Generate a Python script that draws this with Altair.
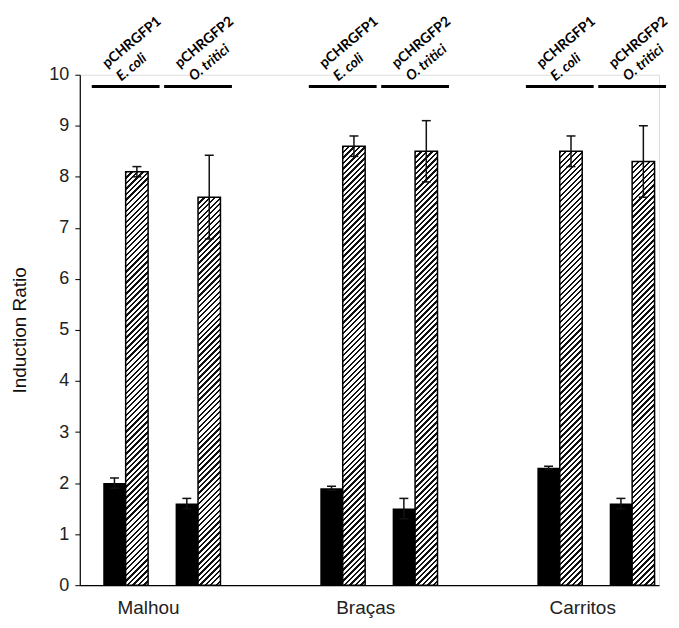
import altair as alt
import pandas as pd

# ---------------- data ----------------
slots = ["M1", "M2", "gap1", "B1", "B2", "gap2", "C1", "C2"]
bar_slots = ["M1", "M2", "B1", "B2", "C1", "C2"]
group_labels = {"M1": "Malhou", "B1": "Braças", "C1": "Carritos"}
plasmids = ["pCHRGFP1", "pCHRGFP2", "pCHRGFP1", "pCHRGFP2", "pCHRGFP1", "pCHRGFP2"]
hosts = ["E. coli", "O. tritici", "E. coli", "O. tritici", "E. coli", "O. tritici"]
black_vals = [2.0, 1.6, 1.9, 1.5, 2.3, 1.6]
black_err = [0.1, 0.1, 0.04, 0.2, 0.03, 0.1]
hatch_vals = [8.1, 7.6, 8.6, 8.5, 8.5, 8.3]
hatch_err = [0.1, 0.82, 0.2, 0.6, 0.3, 0.7]
line_level = 9.77

# ---------------- geometry ----------------
W, H = 581, 512
P_INNER, P_OUTER, ALIGN = 0.38, 0.193, 0.84
step = W / (len(slots) - P_INNER + 2 * P_OUTER)
bar_w = step * (1 - P_INNER) / 2


def hatch(value, period=5.5, frac=0.42):
    h = value / 10 * H
    w = bar_w
    r = w / h
    k = (r + 1) / (r * r + 1)
    n = int(round((w + h) / period))
    stops = []
    for i in range(n):
        a, b, c = i / n, (i + frac) / n, (i + 1) / n
        stops += [
            {"offset": a, "color": "#111111"},
            {"offset": b, "color": "#111111"},
            {"offset": b, "color": "#ffffff"},
            {"offset": c, "color": "#ffffff"},
        ]
    return {"gradient": "linear", "x1": 0, "y1": 0, "x2": k * r, "y2": k, "stops": stops}


black_df = pd.DataFrame({"slot": bar_slots, "series": "black", "v": black_vals,
                         "lo": [v - e for v, e in zip(black_vals, black_err)],
                         "hi": [v + e for v, e in zip(black_vals, black_err)]})
hatch_df = pd.DataFrame({"slot": bar_slots, "series": "hatched", "v": hatch_vals,
                         "lo": [v - e for v, e in zip(hatch_vals, hatch_err)],
                         "hi": [v + e for v, e in zip(hatch_vals, hatch_err)]})
hatch_df["grad"] = [hatch(v) for v in hatch_vals]
err_df = pd.concat([black_df, hatch_df.drop(columns="grad")], ignore_index=True)
caps_df = pd.concat([
    err_df.assign(cy=err_df["lo"]),
    err_df.assign(cy=err_df["hi"]),
], ignore_index=True)
top_df = pd.DataFrame({"slot": bar_slots, "plasmid": plasmids, "host": hosts,
                       "ly": [line_level] * len(bar_slots)})

label_expr = " : ".join(
    [f"datum.value == '{k}' ? '{v}'" for k, v in group_labels.items()]) + " : ''"

x_enc = alt.X(
    "slot:N",
    scale=alt.Scale(domain=slots, paddingInner=P_INNER, paddingOuter=P_OUTER, align=ALIGN),
    axis=alt.Axis(title=None, ticks=False, labelExpr=label_expr, labelOffset=23,
                  labelAngle=0, labelFontSize=19, labelColor="#222222",
                  labelFont="Liberation Sans", labelPadding=13, labelOverlap=False,
                  domainColor="#000000", domainWidth=1.2),
)
xo_enc = alt.XOffset("series:N", scale=alt.Scale(domain=["black", "hatched"],
                                                 paddingInner=0, paddingOuter=0))
y_scale = alt.Scale(domain=[0, 10])
y_axis = alt.Axis(title="Induction Ratio", values=list(range(11)), grid=False,
                  tickSize=5, tickColor="#000000", domainColor="#000000", domainWidth=1.2,
                  labelFontSize=18, labelColor="#222222", labelFont="Liberation Sans",
                  labelPadding=6, titleFontSize=19, titleFontWeight="normal",
                  titleFont="Liberation Sans", titleColor="#111111", titlePadding=19)

black_bars = alt.Chart(black_df).mark_bar(color="#000000").encode(
    x=x_enc, xOffset=xo_enc, y=alt.Y("v:Q", scale=y_scale, axis=y_axis))

hatch_bars = alt.Chart(hatch_df).mark_bar(stroke="#000000", strokeWidth=1.5).encode(
    x=x_enc, xOffset=xo_enc, y=alt.Y("v:Q", scale=y_scale, axis=y_axis),
    fill=alt.Fill("grad:N", scale=None))

err_rules = alt.Chart(err_df).mark_rule(color="#111111", strokeWidth=1.5).encode(
    x=x_enc, xOffset=xo_enc, y=alt.Y("lo:Q", scale=y_scale), y2="hi:Q")

err_caps = alt.Chart(caps_df).mark_tick(color="#111111", size=9, thickness=1.5,
                                        opacity=1, orient="horizontal").encode(
    x=x_enc, xOffset=xo_enc, y=alt.Y("cy:Q", scale=y_scale))

top_lines = alt.Chart(top_df).mark_tick(color="#000000", size=68, thickness=3,
                                        opacity=1, orient="horizontal").encode(
    x=x_enc, y=alt.Y("ly:Q", scale=y_scale))

top_text1 = alt.Chart(top_df).mark_text(
    angle=320, align="left", baseline="middle", dx=-2.6, dy=-29.6, fontSize=14,
    fontWeight="bold", font="Lato", color="#000000").encode(
    x=x_enc, y=alt.Y("ly:Q", scale=y_scale), text="plasmid:N")

top_text2 = alt.Chart(top_df).mark_text(
    angle=320, align="left", baseline="middle", dx=-0.2, dy=-10.6, fontSize=14,
    fontWeight="bold", fontStyle="italic", font="Lato", color="#000000").encode(
    x=x_enc, y=alt.Y("ly:Q", scale=y_scale), text="host:N")

chart = alt.layer(black_bars, hatch_bars, err_rules, err_caps, top_lines,
                  top_text1, top_text2).properties(
    width=W, height=H,
    autosize=alt.AutoSizeParams(type="none"),
    padding={"top": 66, "left": 72, "right": 12, "bottom": 32},
).configure_view(stroke=None).configure(background="#ffffff")

chart.save("out.html", embed_options={"renderer": "svg", "actions": False})
